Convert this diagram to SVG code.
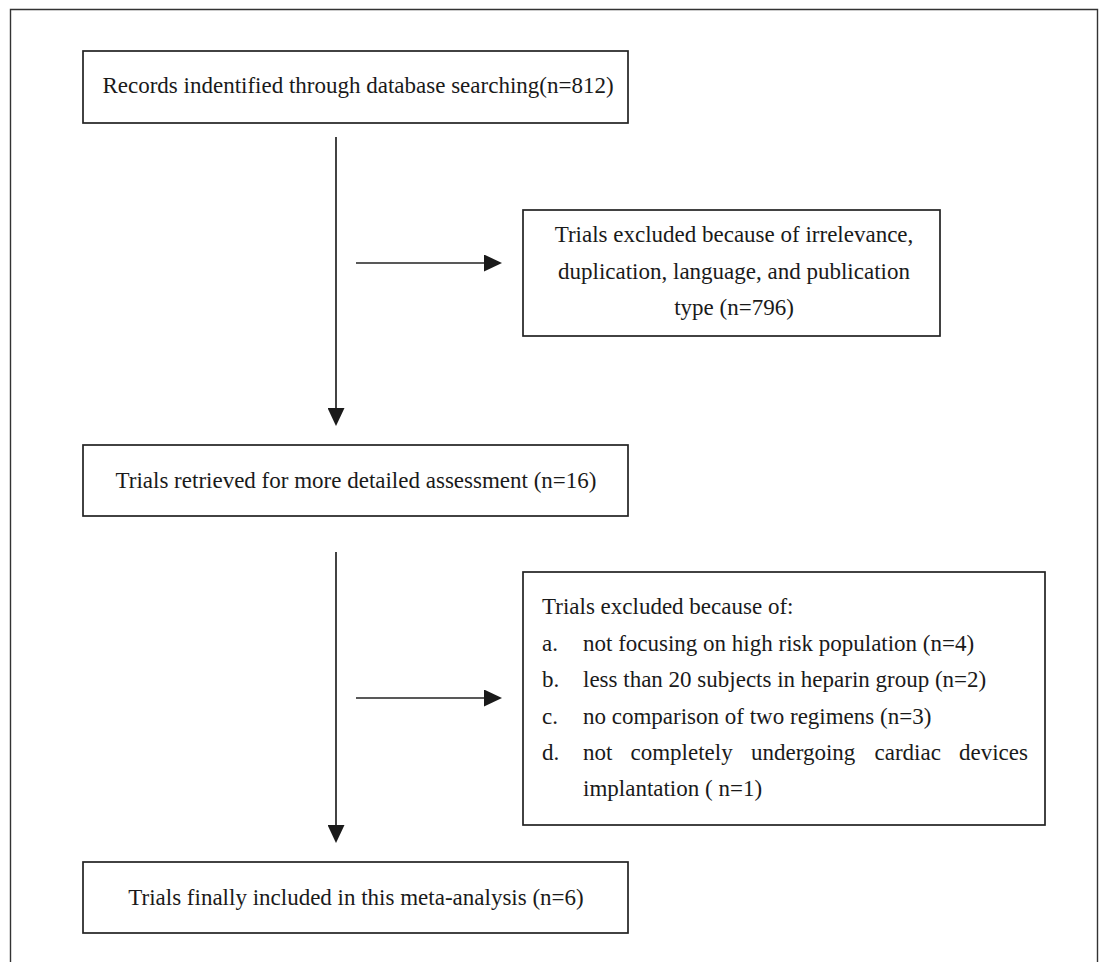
<svg xmlns="http://www.w3.org/2000/svg" width="1102" height="962" viewBox="0 0 1102 962">
<defs>
<marker id="ah" markerWidth="18" markerHeight="17" refX="10" refY="8.5" orient="auto" markerUnits="userSpaceOnUse" viewBox="0 0 18 17">
<path d="M0,0 L18,8.5 L0,17 Z" fill="#1a1a1a"/>
</marker>
<style>
.box{fill:#fff;stroke:#222;stroke-width:1.7}
.t{font-family:"Liberation Serif","Times New Roman",serif;font-size:23px;fill:#1a1a1a}
.c{text-anchor:middle}
.e{text-anchor:end}
.ln{stroke:#222;stroke-width:1.7;fill:none}
</style>
</defs>
<rect width="1102" height="962" fill="#fff"/>
<path d="M10.5,962 V9.5 H1097.5 V962" fill="none" stroke="#333" stroke-width="1.4"/>
<g id="connectors">
<line class="ln" x1="336" y1="137" x2="336" y2="418" marker-end="url(#ah)"/>
<line class="ln" x1="356" y1="263" x2="494" y2="263" marker-end="url(#ah)"/>
<line class="ln" x1="336" y1="552" x2="336" y2="835" marker-end="url(#ah)"/>
<line class="ln" x1="356" y1="698" x2="494" y2="698" marker-end="url(#ah)"/>
</g>
<g id="n1">
<rect class="box" x="83" y="51" width="545" height="72"/>
<text class="t c" x="358" y="93">Records indentified through database searching(n=812)</text>
</g>
<g id="n2">
<rect class="box" x="523" y="210" width="417" height="126"/>
<text class="t c" x="734" y="242">Trials excluded because of irrelevance,</text>
<text class="t c" x="734" y="279">duplication, language, and publication</text>
<text class="t c" x="734" y="315">type (n=796)</text>
</g>
<g id="n3">
<rect class="box" x="83" y="445" width="545" height="71"/>
<text class="t c" x="356" y="488">Trials retrieved for more detailed assessment (n=16)</text>
</g>
<g id="n4">
<rect class="box" x="523" y="572" width="522" height="253"/>
<text class="t" x="542" y="614">Trials excluded because of:</text>
<text class="t" x="542" y="650.5">a.</text>
<text class="t" x="583" y="650.5">not focusing on high risk population (n=4)</text>
<text class="t" x="542" y="687">b.</text>
<text class="t" x="583" y="687">less than 20 subjects in heparin group (n=2)</text>
<text class="t" x="542" y="723.5">c.</text>
<text class="t" x="583" y="723.5">no comparison of two regimens (n=3)</text>
<text class="t" x="542" y="760">d.</text>
<text class="t" y="760"><tspan x="583">not</tspan><tspan x="630.5">completely</tspan><tspan x="751">undergoing</tspan><tspan x="874.5">cardiac</tspan><tspan x="959">devices</tspan></text>
<text class="t" x="583" y="796">implantation ( n=1)</text>
</g>
<g id="n5">
<rect class="box" x="83" y="862" width="545" height="71"/>
<text class="t c" x="356" y="905">Trials finally included in this meta-analysis (n=6)</text>
</g>
</svg>
